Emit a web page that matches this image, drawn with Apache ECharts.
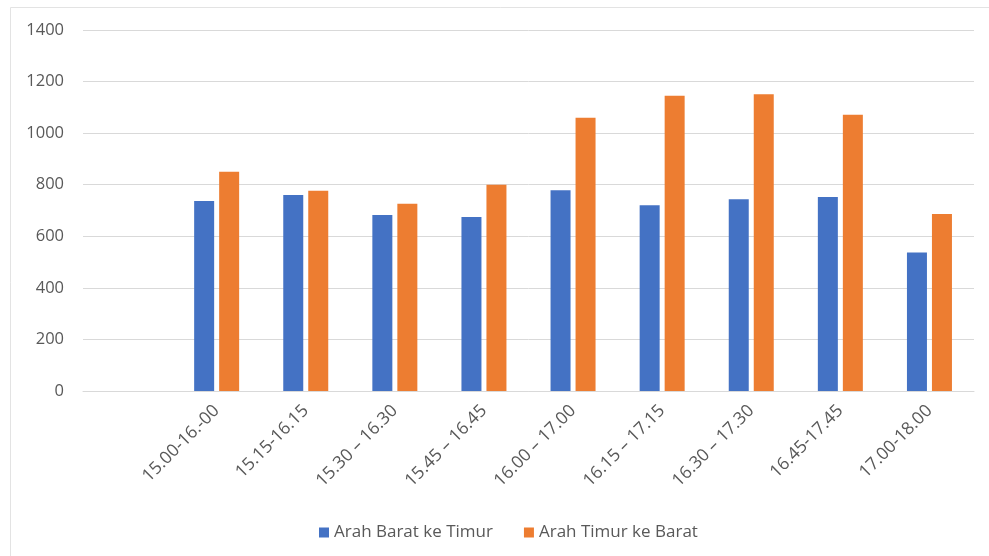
<!DOCTYPE html>
<html><head><meta charset="utf-8">
<script src="https://cdn.jsdelivr.net/npm/echarts@6/dist/echarts.min.js"></script>
<style>html,body{margin:0;padding:0;background:#fff}#c{width:989px;height:556px}</style>
</head><body><div id="c"></div>
<script>
const categories = ['', '15.00-16.-00', '15.15-16.15', '15.30 – 16.30', '15.45 – 16.45', '16.00 – 17.00', '16.15 – 17.15', '16.30 – 17.30', '16.45-17.45', '17.00-18.00'];
const barat = [null, 737, 760, 683, 675, 779, 720, 744, 752, 537];
const timur = [null, 850, 777, 726, 800, 1060, 1145, 1151, 1071, 686];
const yTicks = [0, 200, 400, 600, 800, 1000, 1200, 1400];
const seriesNames = ['Arah Barat ke Timur', 'Arah Timur ke Barat'];

const chart = echarts.init(document.getElementById('c'));
const font = 'Open Sans, Liberation Sans, sans-serif';
chart.setOption({
  backgroundColor: '#fff',
  animation: false,
  graphic: [{type:'rect', shape:{x:10.5,y:7.5,width:990,height:560}, style:{fill:'none', stroke:'#e3e3e3', lineWidth:1}}],
  grid: {left: 83, right: 15, top: 30, bottom: 165, containLabel: false},
  legend: {
    bottom: 10, left: 314, itemWidth: 10, itemHeight: 10, itemGap: 31,
    icon: 'rect',
    textStyle: {color: '#595959', fontSize: 17, fontFamily: font},
    data: seriesNames
  },
  xAxis: {
    type: 'category', data: categories,
    axisLine: {lineStyle: {color: '#d9d9d9', width: 1}},
    axisTick: {show: false},
    axisLabel: {rotate: 45, interval: 0, color: '#595959', fontSize: 17.5, fontFamily: font, margin: 17}
  },
  yAxis: {
    type: 'value', min: 0, max: 1400, interval: 200,
    axisLine: {show: false}, axisTick: {show: false},
    splitLine: {lineStyle: {color: '#d9d9d9', width: 1}},
    axisLabel: {color: '#595959', fontSize: 16.5, fontFamily: font, margin: 19,
      formatter: v => yTicks.includes(v) ? String(v) : ''}
  },
  series: [
    {name: seriesNames[0], type: 'bar', data: barat, barWidth: 20, barGap: '25%', itemStyle: {color: '#4472C4'}},
    {name: seriesNames[1], type: 'bar', data: timur, barWidth: 20, barGap: '25%', itemStyle: {color: '#ED7D31'}}
  ]
});
</script></body></html>
